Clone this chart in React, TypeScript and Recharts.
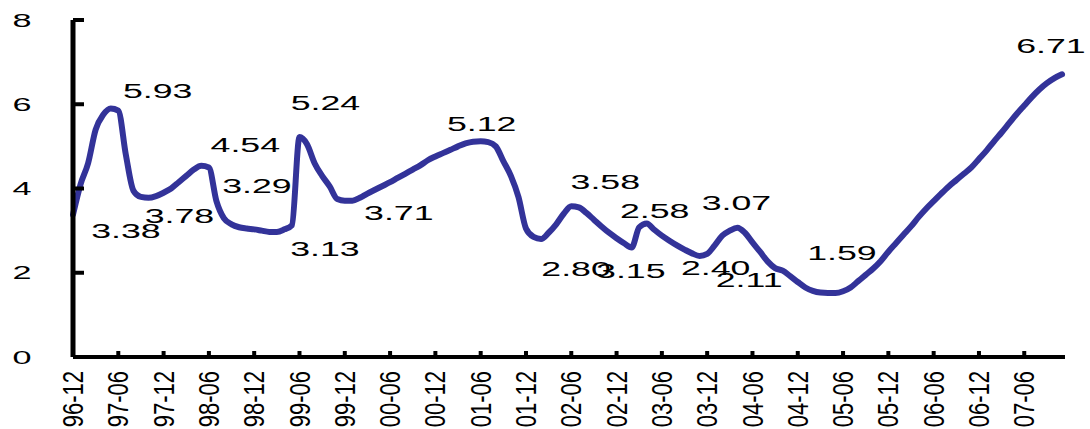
import React from 'react';
import { LineChart, Line, XAxis, YAxis, LabelList } from 'recharts';

// Monthly categories from 96-12 to 07-11
const firstYear = 1996;
const firstMonth = 12;
const monthCount = 132;
const categories: string[] = Array.from({ length: monthCount }, (_, i) => {
  const total = firstYear * 12 + (firstMonth - 1) + i;
  const yy = Math.floor(total / 12) % 100;
  const mm = (total % 12) + 1;
  return `${String(yy).padStart(2, '0')}-${String(mm).padStart(2, '0')}`;
});

const values: number[] = [
  3.38, 4.1, 4.6, 5.4, 5.75, 5.9, 5.85, 4.8, 3.95, 3.8,
  3.78, 3.82, 3.9, 4.0, 4.15, 4.3, 4.45, 4.54, 4.5, 3.7,
  3.29, 3.15, 3.08, 3.05, 3.03, 3.0, 2.97, 2.97, 3.03, 3.13,
  5.22, 5.05, 4.6, 4.3, 4.05, 3.75, 3.71, 3.71, 3.78, 3.88,
  3.97, 4.06, 4.15, 4.25, 4.35, 4.45, 4.55, 4.67, 4.76, 4.84,
  4.92, 5.0, 5.07, 5.11, 5.12, 5.1, 5.0, 4.65, 4.3, 3.8,
  3.05, 2.85, 2.8, 2.95, 3.15, 3.4, 3.58, 3.55, 3.42, 3.26,
  3.1, 2.95, 2.82, 2.7, 2.6, 3.08, 3.17, 3.02, 2.88, 2.76,
  2.65, 2.55, 2.46, 2.4, 2.45, 2.65, 2.88, 3.0, 3.07, 2.95,
  2.72, 2.5, 2.27, 2.11, 2.05, 1.92, 1.78, 1.65, 1.57, 1.53,
  1.52, 1.52, 1.56, 1.65, 1.8, 1.95, 2.1, 2.28, 2.5, 2.7,
  2.9, 3.1, 3.32, 3.52, 3.7, 3.88, 4.05, 4.2, 4.35, 4.5,
  4.7, 4.9, 5.12, 5.33, 5.55, 5.77, 5.97, 6.17, 6.35, 6.5,
  6.62, 6.71,
];

const yTicks: number[] = [0, 2, 4, 6, 8];

// Data labels: which point carries which text
const pointLabelIndex: number[] = [0, 5, 10, 17, 20, 29, 30, 36, 54, 62, 66, 74, 76, 83, 88, 93, 100, 131];
const pointLabelText: string[] = ['3.38', '5.93', '3.78', '4.54', '3.29', '3.13', '5.24', '3.71', '5.12', '2.80', '3.58', '2.58', '3.15', '2.40', '3.07', '2.11', '1.59', '6.71'];

// label offsets (styling) relative to the point
const labelOffsets: Record<string, [number, number]> = {
  '3.38': [53, 16],
  '5.93': [47, -18],
  '3.78': [31, 18],
  '4.54': [44, -21],
  '3.29': [33, -33],
  '3.13': [33, 23],
  '5.24': [26, -35],
  '3.71': [54, 12],
  '5.12': [1, -18],
  '2.80': [35, 29],
  '3.58': [34, -25],
  '2.58': [23, -37],
  '3.15': [-16, 47],
  '2.40': [16, 12],
  '3.07': [-1, -25],
  '2.11': [-26, 11],
  '1.59': [14, -40],
  '6.71': [-11, -29],
};

const data = categories.map((c, i) => ({ month: c, v: values[i] }));

const FONT = '"Liberation Sans", Arial, sans-serif';

const YTick = (props: any) => {
  const { x, y, payload } = props;
  return (
    <g>
      {payload.value !== 0 && (
        <line x1={x} y1={y} x2={x + 11} y2={y} stroke="#000" strokeWidth={4} />
      )}
      <text
        transform={`translate(${x - 51}, ${y}) scale(1.8, 1)`}
        textAnchor="middle"
        dominantBaseline="central"
        fontFamily={FONT}
        fontSize={19}
        fill="#000"
      >
        {payload.value}
      </text>
    </g>
  );
};

const XTick = (props: any) => {
  const { x, y, payload } = props;
  return (
    <g>
      <line x1={x} y1={y} x2={x} y2={y - 6} stroke="#000" strokeWidth={4} />
      <text
        transform={`translate(${x}, ${y + 14}) rotate(-90) scale(1, 1.3)`}
        textAnchor="end"
        dominantBaseline="central"
        fontFamily={FONT}
        fontSize={22}
        fill="#000"
      >
        {payload.value}
      </text>
    </g>
  );
};

const renderPointLabel = (props: any) => {
  const { x, y, index } = props;
  const k = pointLabelIndex.indexOf(index);
  if (k < 0) return null;
  const text = pointLabelText[k];
  const [dx, dy] = labelOffsets[text];
  return (
    <text
      key={`lbl-${index}`}
      transform={`translate(${x + dx}, ${y + dy}) scale(1.7, 1)`}
      textAnchor="middle"
      dominantBaseline="central"
      fontFamily={FONT}
      fontSize={21}
      fill="#000"
    >
      {text}
    </text>
  );
};

export default function App() {
  return (
    <div style={{ position: 'absolute', left: 0, top: 0, width: 1090, height: 429, background: '#fff' }}>
      <LineChart
        width={1090}
        height={429}
        data={data}
        margin={{ top: 20, right: 25, bottom: 0, left: 0 }}
      >
        <XAxis
          dataKey="month"
          interval={5}
          tickSize={0}
          tickMargin={0}
          tickLine={false}
          axisLine={{ stroke: '#000', strokeWidth: 4 }}
          tick={<XTick />}
          padding={{ left: 0, right: 3 }}
          height={72}
        />
        <YAxis
          width={73}
          domain={[0, 8]}
          ticks={yTicks}
          tickSize={0}
          tickMargin={0}
          tickLine={false}
          axisLine={{ stroke: '#000', strokeWidth: 5 }}
          tick={<YTick />}
          interval={0}
        />
        <Line
          type="monotone"
          dataKey="v"
          stroke="#333399"
          strokeWidth={6}
          dot={false}
          isAnimationActive={false}
          strokeLinejoin="round"
          strokeLinecap="round"
        >
          <LabelList dataKey="v" content={renderPointLabel} />
        </Line>
      </LineChart>
    </div>
  );
}
